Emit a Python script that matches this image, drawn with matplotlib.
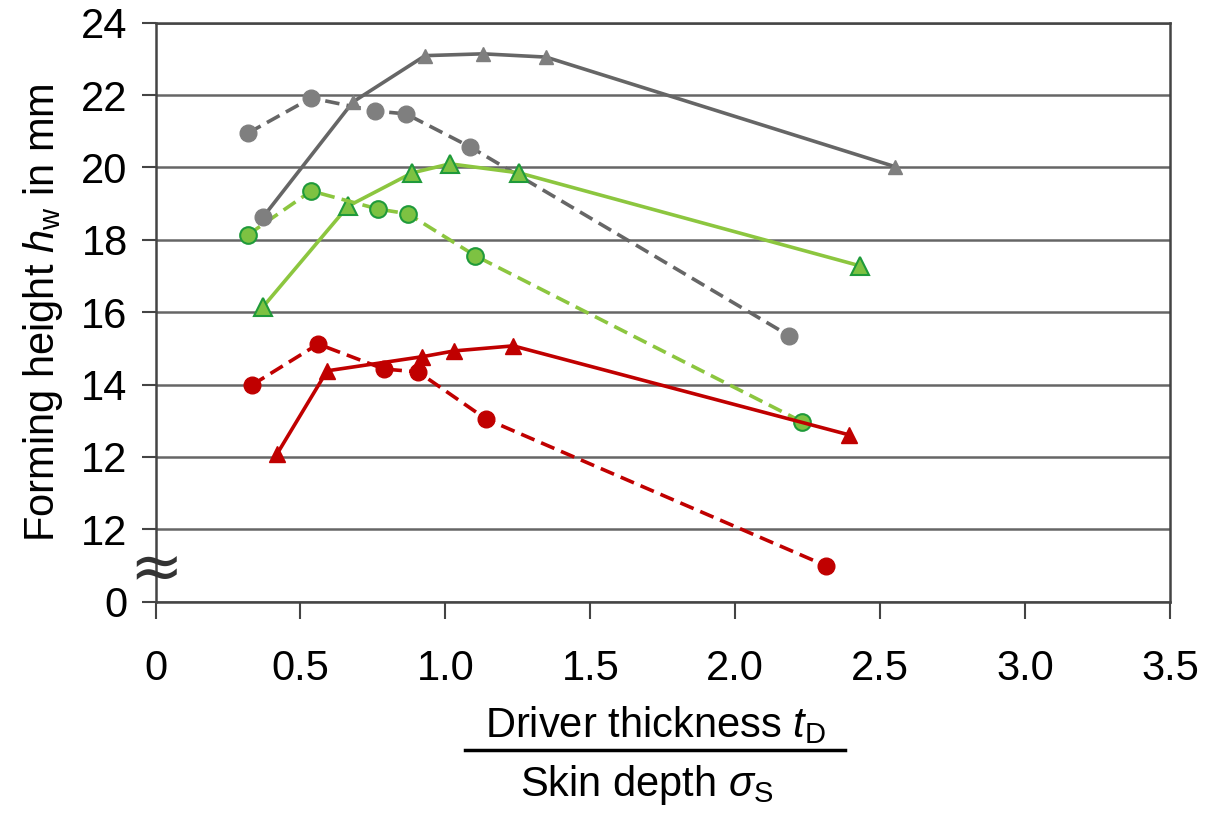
import matplotlib
matplotlib.use("Agg")
import matplotlib.pyplot as plt
from matplotlib.lines import Line2D

plt.rcParams['font.family'] = ['Liberation Sans', 'DejaVu Sans']
plt.rcParams['mathtext.fontset'] = 'custom'
plt.rcParams['mathtext.it'] = 'Liberation Sans:italic'
plt.rcParams['mathtext.rm'] = 'Liberation Sans'

# Data (y values are in broken-axis position units: tick labelled "0" sits at 8)
gray_solid_x = [0.371, 0.681, 0.930, 1.130, 1.347, 2.552]
gray_solid_y = [18.63, 21.81, 23.09, 23.14, 23.05, 20.02]
gray_solid_markers = ['o', '^', '^', '^', '^', '^']

gray_dash_x = [0.319, 0.537, 0.757, 0.864, 1.085, 2.186]
gray_dash_y = [20.95, 21.92, 21.56, 21.48, 20.57, 15.35]

green_solid_x = [0.371, 0.664, 0.885, 1.016, 1.254, 2.431]
green_solid_y = [16.15, 18.93, 19.85, 20.10, 19.85, 17.28]

green_dash_x = [0.319, 0.537, 0.768, 0.871, 1.103, 2.231]
green_dash_y = [18.14, 19.35, 18.85, 18.72, 17.56, 12.97]

red_solid_x = [0.419, 0.592, 0.920, 1.030, 1.234, 2.393]
red_solid_y = [12.08, 14.38, 14.77, 14.93, 15.07, 12.61]

red_dash_x = [0.333, 0.561, 0.788, 0.906, 1.140, 2.314]
red_dash_y = [13.99, 15.12, 14.43, 14.35, 13.05, 8.99]

x_ticks = [0, 0.5, 1.0, 1.5, 2.0, 2.5, 3.0, 3.5]
x_labels = ['0', '0.5', '1.0', '1.5', '2.0', '2.5', '3.0', '3.5']
y_ticks = [8, 10, 12, 14, 16, 18, 20, 22, 24]
y_labels = ['0', '12', '12', '14', '16', '18', '20', '22', '24']

GRAY_LINE = '#666666'
GRAY_MK = '#7f7f7f'
GREEN_LINE = '#8cc63f'
GREEN_FACE = '#7dc242'
GREEN_EDGE = '#1f9a3a'
RED = '#c00000'

FS = 30

fig = plt.figure(figsize=(12.16, 8.14), dpi=100)
ax = fig.add_axes([0.1279, 0.2608, 0.8343, 0.7113])

ax.set_xlim(0, 3.5)
ax.set_ylim(8, 24)
ax.set_yticks(y_ticks)
ax.set_yticklabels(y_labels)
ax.set_xticks(x_ticks)
ax.set_xticklabels(x_labels)
ax.yaxis.grid(True, color='#666666', linewidth=1.8)
ax.set_axisbelow(True)
for s in ax.spines.values():
    s.set_color('#444444')
    s.set_linewidth(1.8)
ax.tick_params(axis='y', direction='out', length=10, width=1.5, color='#444444',
               labelsize=FS, pad=10)
ax.tick_params(axis='x', direction='out', length=12, width=1.5, color='#444444',
               labelsize=FS, pad=22)

lw = 2.6
dash = (0, (4, 2))

# gray solid
ax.plot(gray_solid_x, gray_solid_y, color=GRAY_LINE, lw=lw, zorder=3)
for x, y, m in zip(gray_solid_x, gray_solid_y, gray_solid_markers):
    ax.plot([x], [y], marker=m, ms=10 if m == '^' else 12, color=GRAY_MK,
            mec=GRAY_MK, ls='none', zorder=4)
# gray dashed
ax.plot(gray_dash_x, gray_dash_y, color=GRAY_LINE, lw=lw, ls=dash, marker='o',
        ms=12, mfc=GRAY_MK, mec=GRAY_MK, zorder=3)
# green solid
ax.plot(green_solid_x, green_solid_y, color=GREEN_LINE, lw=lw, marker='^',
        ms=13, mfc=GREEN_FACE, mec=GREEN_EDGE, mew=1.5, zorder=3)
# green dashed
ax.plot(green_dash_x, green_dash_y, color=GREEN_LINE, lw=lw, ls=dash, marker='o',
        ms=12, mfc=GREEN_FACE, mec=GREEN_EDGE, mew=1.5, zorder=3)
# red solid
ax.plot(red_solid_x, red_solid_y, color=RED, lw=lw, marker='^', ms=11,
        mfc=RED, mec=RED, zorder=3)
# red dashed
ax.plot(red_dash_x, red_dash_y, color=RED, lw=lw, ls=dash, marker='o', ms=12,
        mfc=RED, mec=RED, zorder=3)

# axis break symbol
ax.text(0.0, 8.9, '≈', fontsize=46, ha='center', va='center',
        family='DejaVu Sans', color='#333333', clip_on=False, zorder=5)

ax.set_ylabel(r'Forming height $h_\mathrm{w}$ in mm', fontsize=FS, labelpad=12)

# fraction x label
fig.text(0.539, 0.109, r'Driver thickness $t_\mathrm{D}$', fontsize=FS,
         ha='center', va='center')
fig.add_artist(Line2D([0.382, 0.695], [0.0785, 0.0785], color='black', lw=2.5,
                      transform=fig.transFigure))
fig.text(0.532, 0.036, r'Skin depth $\sigma_\mathrm{S}$', fontsize=FS,
         ha='center', va='center')

fig.savefig('out.png', dpi=100)
